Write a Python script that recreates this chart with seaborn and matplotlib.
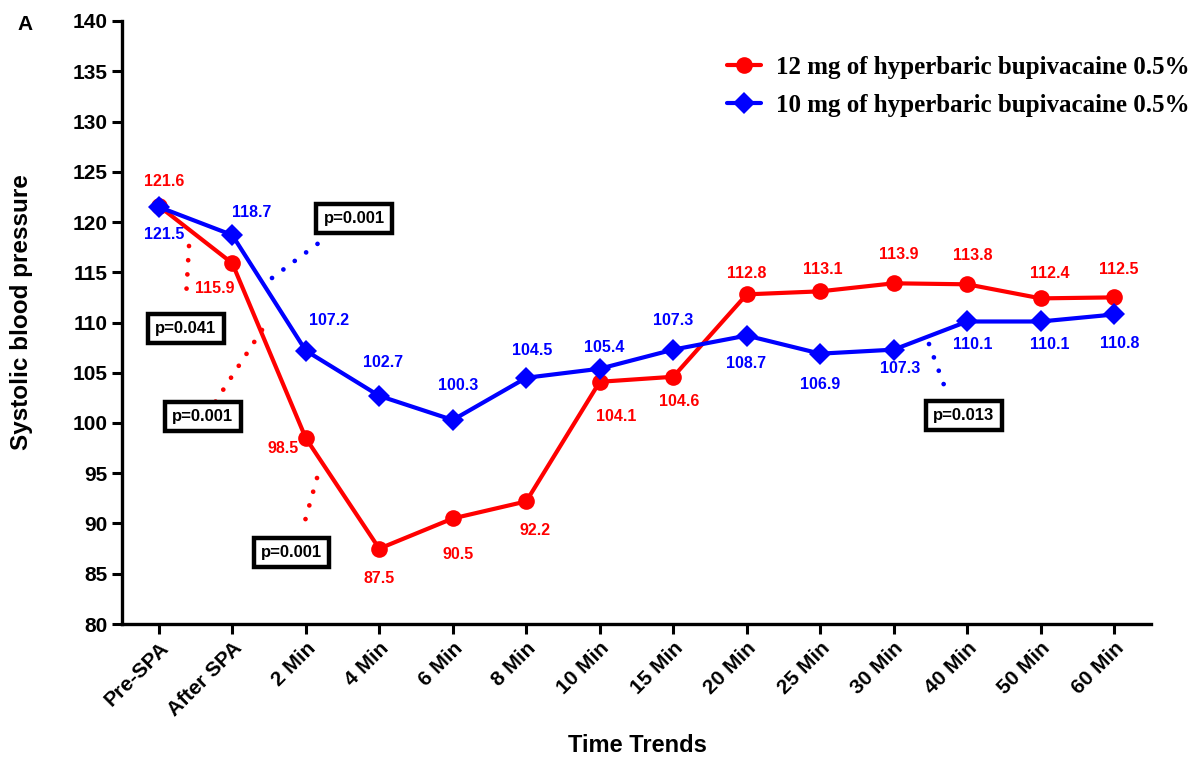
import matplotlib
matplotlib.use("Agg")
import matplotlib.pyplot as plt
import seaborn as sns
import pandas as pd
import numpy as np

# ---- data ----
time_labels = ["Pre-SPA", "After SPA", "2 Min", "4 Min", "6 Min", "8 Min", "10 Min",
               "15 Min", "20 Min", "25 Min", "30 Min", "40 Min", "50 Min", "60 Min"]
group_12 = "12 mg of hyperbaric bupivacaine 0.5%"
group_10 = "10 mg of hyperbaric bupivacaine 0.5%"
sbp_12 = [121.6, 115.9, 98.5, 87.5, 90.5, 92.2, 104.1, 104.6, 112.8, 113.1, 113.9, 113.8, 112.4, 112.5]
sbp_10 = [121.5, 118.7, 107.2, 102.7, 100.3, 104.5, 105.4, 107.3, 108.7, 106.9, 107.3, 110.1, 110.1, 110.8]
y_ticks = list(range(80, 141, 5))
p_labels = ["p=0.041", "p=0.001", "p=0.001", "p=0.001", "p=0.013"]

# ---- styling / layout ----
RED = "#FF0000"
BLUE = "#0000FF"
# label offsets in pixels (dx, dy)
off_12 = [(5, 24), (-17, -25), (-23, -10), (0, -30), (5, -36), (9, -29), (16, -35), (6, -25),
          (0, 21), (3, 22), (5, 29), (5, 29), (9, 25), (5, 28)]
off_10 = [(5, -28), (19, 23), (23, 30), (4, 33), (5, 34), (6, 27), (4, 21), (0, 29),
          (-1, -28), (0, -31), (6, -19), (6, -23), (9, -23), (5, -29)]
# p-value boxes (axes fraction centers) and dotted connectors (figure pixel endpoints)
box_pos = [(0.0622, 0.490), (0.2255, 0.6725), (0.0787, 0.3449), (0.1643, 0.1186), (0.8183, 0.3466)]
dot_lines = [((189, 246), (186, 298), RED), ((272, 278), (324, 239), BLUE),
             ((262, 330), (212, 407), RED), ((317, 478), (303, 528), RED),
             ((929, 344), (948, 396), BLUE)]

sns.set_style("ticks")
plt.rcParams["font.family"] = ["Liberation Sans", "DejaVu Sans"]
plt.rcParams["font.weight"] = "bold"
for k in ["text.color", "axes.labelcolor", "xtick.color", "ytick.color", "axes.edgecolor"]:
    plt.rcParams[k] = "black"

fig = plt.figure(figsize=(12.02, 7.62), dpi=100)
L, R, T, B = 122, 1151, 21, 624
ax = fig.add_axes([L / 1202, 1 - B / 762, (R - L) / 1202, (B - T) / 762])

n = len(time_labels)
df = pd.DataFrame({
    "idx": list(range(n)) * 2,
    "sbp": sbp_12 + sbp_10,
    "group": [group_12] * n + [group_10] * n,
})

sns.lineplot(data=df, x="idx", y="sbp", hue="group", style="group",
             palette={group_12: RED, group_10: BLUE},
             markers={group_12: "o", group_10: "D"}, dashes=False,
             linewidth=3, markersize=12, markeredgewidth=0, ax=ax, legend=True)
for line in ax.get_lines():
    if line.get_marker() == "D":
        line.set_markersize(11)

ax.set_xlim(-0.5, 13.5)
ax.set_ylim(80, 140)
ax.set_xticks(range(n))
ax.set_xticklabels(time_labels, rotation=45, ha="right", rotation_mode="anchor")
ax.set_yticks(y_ticks)
ax.tick_params(axis="both", width=2.2, length=7, labelsize=15, color="black", labelcolor="black")
for lab in ax.get_xticklabels() + ax.get_yticklabels():
    lab.set_fontweight("bold")
for s in ["left", "bottom"]:
    ax.spines[s].set_linewidth(2.4)
    ax.spines[s].set_color("black")
sns.despine(ax=ax)

ax.set_xlabel("Time Trends", fontsize=17, fontweight="bold")
ax.set_ylabel("Systolic blood pressure", fontsize=17.5, fontweight="bold")
ax.xaxis.set_label_coords((637 - L) / (R - L), (B - 745) / (B - T))
ax.xaxis.label.set_va("center")
ax.yaxis.set_label_coords((22 - L) / (R - L), (B - 312) / (B - T))
ax.yaxis.label.set_va("center")

# data labels
for i, (v, (dx, dy)) in enumerate(zip(sbp_12, off_12)):
    ax.annotate(f"{v:.1f}", (i, v), xytext=(dx, dy), textcoords="offset pixels",
                ha="center", va="center", color=RED, fontsize=11.5, fontweight="bold")
for i, (v, (dx, dy)) in enumerate(zip(sbp_10, off_10)):
    ax.annotate(f"{v:.1f}", (i, v), xytext=(dx, dy), textcoords="offset pixels",
                ha="center", va="center", color=BLUE, fontsize=11.5, fontweight="bold")

# dotted connectors
for (x0, y0), (x1, y1), c in dot_lines:
    fx = [(x0 - L) / (R - L), (x1 - L) / (R - L)]
    fy = [(B - y0) / (B - T), (B - y1) / (B - T)]
    ax.plot(fx, fy, transform=ax.transAxes, color=c, linewidth=3.4,
            linestyle=(0, (0.01, 3.0)), dash_capstyle="round", clip_on=False)

# p-value boxes
for txt, (bx, by) in zip(p_labels, box_pos):
    ax.text(bx, by, txt, transform=ax.transAxes, ha="center", va="center",
            fontsize=12, fontweight="bold", color="black",
            bbox=dict(boxstyle="square,pad=0.42", facecolor="white",
                      edgecolor="black", linewidth=3.2))

# legend
leg = ax.legend(loc="center left", bbox_to_anchor=((727 - L) / (R - L), (B - 86.5) / (B - T)),
                frameon=False, handlelength=1.35, handletextpad=0.6, labelspacing=0.6,
                borderaxespad=0, borderpad=0,
                prop={"family": "Liberation Serif", "weight": "bold", "size": 18})
for h in leg.legend_handles:
    h.set_linewidth(3)

fig.text(25 / 1202, 1 - 25 / 762, "A", fontsize=15, fontweight="bold", ha="center", va="center")

fig.savefig("out.png", dpi=100)
